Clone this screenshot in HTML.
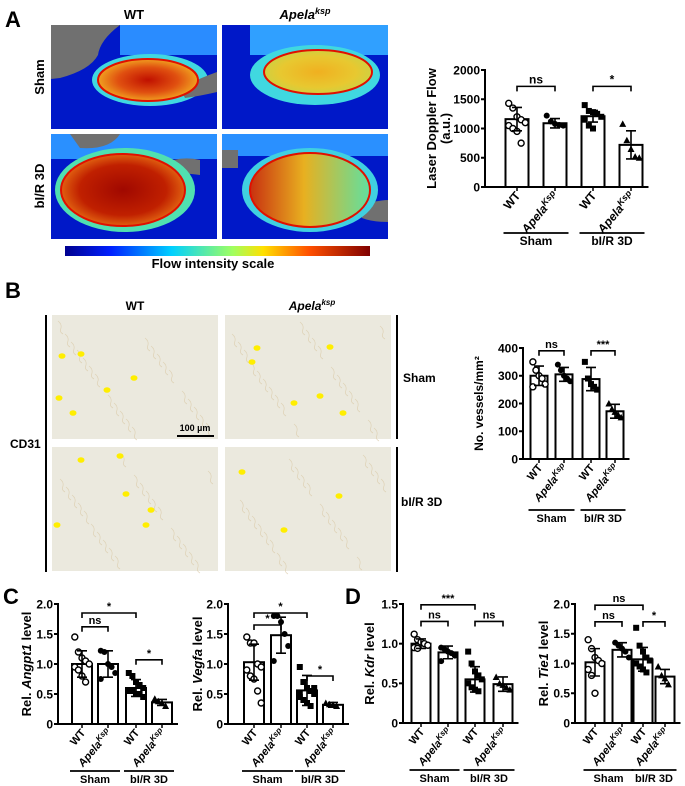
<!DOCTYPE html>
<html><head><meta charset="utf-8"><style>
html,body{margin:0;padding:0;background:#fff;}
svg{display:block;font-family:"Liberation Sans",Arial,sans-serif;}
</style></head><body>
<svg id="fig" width="685" height="786" viewBox="0 0 685 786" xmlns="http://www.w3.org/2000/svg">
<defs>
<linearGradient id="jet" x1="0" x2="1" y1="0" y2="0">
<stop offset="0" stop-color="#00008f"/><stop offset="0.15" stop-color="#0020ff"/><stop offset="0.35" stop-color="#00d0ff"/><stop offset="0.55" stop-color="#a0ff60"/><stop offset="0.65" stop-color="#ffe000"/><stop offset="0.8" stop-color="#ff5000"/><stop offset="1" stop-color="#800000"/>
</linearGradient>
<radialGradient id="hot1"><stop offset="0" stop-color="#c01000"/><stop offset="0.6" stop-color="#e05010"/><stop offset="1" stop-color="#f0a020"/></radialGradient>
<radialGradient id="hot2"><stop offset="0" stop-color="#f0b020"/><stop offset="0.7" stop-color="#e8c830"/><stop offset="1" stop-color="#d0d040"/></radialGradient>
<radialGradient id="hot3"><stop offset="0" stop-color="#a00800"/><stop offset="0.7" stop-color="#c02000"/><stop offset="1" stop-color="#e06010"/></radialGradient>
<linearGradient id="hot4" x1="0" x2="1"><stop offset="0" stop-color="#c83010"/><stop offset="0.45" stop-color="#e8b020"/><stop offset="1" stop-color="#60e0a0"/></linearGradient>
</defs>

<!-- Panel A -->
<text x="5" y="27" font-size="22" font-weight="bold">A</text>
<text x="134" y="19" font-size="13" font-weight="bold" text-anchor="middle">WT</text>
<text x="305" y="19" font-size="13" font-weight="bold" font-style="italic" text-anchor="middle">Apela<tspan font-size="9" dy="-5">ksp</tspan></text>
<text transform="translate(44,77) rotate(-90)" font-size="13" font-weight="bold" text-anchor="middle">Sham</text>
<text transform="translate(44,186) rotate(-90)" font-size="13" font-weight="bold" text-anchor="middle">bI/R 3D</text>

<g>
<rect x="51" y="25" width="166" height="104" fill="#0018c8"/>
<path d="M51 25 H120 Q100 40 98 55 Q90 70 60 78 L51 79Z" fill="#707070"/>
<rect x="120" y="25" width="97" height="30" fill="#2a8cff"/>
<ellipse cx="150" cy="80" rx="58" ry="26" fill="#40d8e0"/>
<path d="M180 88 Q200 78 217 72 V92 Q200 96 185 98Z" fill="#707070"/>
<ellipse cx="148" cy="80" rx="50" ry="21" fill="url(#hot1)" stroke="#e01000" stroke-width="2"/>
</g>
<g>
<rect x="222" y="25" width="166" height="104" fill="#0018c8"/>
<rect x="250" y="25" width="138" height="30" fill="#30a0ff"/>
<ellipse cx="315" cy="75" rx="65" ry="30" fill="#40d8e0"/>
<ellipse cx="318" cy="72" rx="54" ry="22" fill="url(#hot2)" stroke="#e01000" stroke-width="2"/>
</g>
<g>
<rect x="51" y="134" width="166" height="105" fill="#0018c8"/>
<rect x="51" y="134" width="166" height="25" fill="#2a90ff"/>
<path d="M70 134 H120 Q110 150 80 148Z" fill="#707070"/>
<path d="M160 165 Q180 155 200 160 L200 175 Q180 172 165 175Z" fill="#707070"/>
<ellipse cx="125" cy="190" rx="70" ry="42" fill="#50e0b0"/>
<ellipse cx="123" cy="190" rx="62" ry="36" fill="url(#hot3)" stroke="#e01000" stroke-width="2"/>
</g>
<g>
<rect x="222" y="134" width="166" height="105" fill="#0018c8"/>
<rect x="222" y="134" width="166" height="22" fill="#2a90ff"/>
<path d="M222 150 H238 V168 H222Z" fill="#707070"/>
<path d="M360 205 Q380 200 388 200 V222 Q372 222 362 218Z" fill="#707070"/>
<ellipse cx="310" cy="190" rx="68" ry="42" fill="#40d0e0"/>
<ellipse cx="310" cy="190" rx="60" ry="37" fill="url(#hot4)" stroke="#e01000" stroke-width="2"/>
</g>
<rect x="65" y="246" width="305" height="10" fill="url(#jet)"/>
<text x="213" y="268" font-size="13" font-weight="bold" text-anchor="middle">Flow intensity scale</text>

<!-- Panel B -->
<text x="5" y="298" font-size="22" font-weight="bold">B</text>
<text x="135" y="310" font-size="12" font-weight="bold" text-anchor="middle">WT</text>
<text x="312" y="310" font-size="12" font-weight="bold" font-style="italic" text-anchor="middle">Apela<tspan font-size="8" dy="-5">ksp</tspan></text>
<line x1="46" y1="315" x2="46" y2="572" stroke="#000" stroke-width="2"/>
<line x1="397" y1="315" x2="397" y2="439" stroke="#000" stroke-width="2"/>
<line x1="397" y1="447" x2="397" y2="572" stroke="#000" stroke-width="2"/>
<text x="10" y="448" font-size="12" font-weight="bold">CD31</text>
<text x="403" y="382" font-size="12" font-weight="bold">Sham</text>
<text x="401" y="506" font-size="12" font-weight="bold">bI/R 3D</text>
<g id="histo"></g>
<line x1="177" y1="436" x2="214" y2="436" stroke="#000" stroke-width="2"/>
<text x="195" y="431" font-size="9" font-weight="bold" text-anchor="middle">100 µm</text>

<text x="3" y="604" font-size="22" font-weight="bold">C</text>
<text x="345" y="604" font-size="22" font-weight="bold">D</text>

<g id="charts"></g>
</svg>
<script>
var NS="http://www.w3.org/2000/svg";
function mk(parent,tag,attrs,text){var e=document.createElementNS(NS,tag);for(var k in attrs)e.setAttribute(k,attrs[k]);if(text!=null)e.textContent=text;parent.appendChild(e);return e;}

var histoRects=[[52,315],[225,315],[52,447],[225,447]];
var histoDots=[[[10,41],[29,39],[7,83],[55,75],[21,98],[82,63]],[[32,33],[27,47],[105,32],[69,88],[95,81],[118,98]],[[29,13],[68,9],[74,47],[99,63],[5,78],[94,78]],[[17,25],[114,49],[59,83]]];
var hg=document.getElementById('histo');
histoRects.forEach(function(r,i){
  var g=mk(hg,'g',{});
  
  
  mk(g,'rect',{x:r[0],y:r[1],width:166,height:124,fill:'#ebe9de'});
  for(var k=0;k<22;k++){var x=r[0]+6+((k*37+i*13)%154),y=r[1]+6+((k*53+i*29)%110);
    mk(g,'path',{d:'M'+x+' '+y+' q4 3 3 7 q-2 4 2 6',fill:'none',stroke:'#d8c7a4','stroke-width':0.7,opacity:0.7});}
  histoDots[i].forEach(function(d){mk(g,'ellipse',{cx:r[0]+d[0],cy:r[1]+d[1],rx:3.5,ry:2.8,fill:'#ffee00'});});
});

// ===== Chart data =====
var groups=['WT','ApelaKsp','WT','ApelaKsp'];
var ldfMeans=[1160,1090,1210,720];
var ldfSD=[200,80,100,240];
var ldfPts=[[1430,1350,1200,1150,1100,1050,1000,950,750],[1220,1120,1080,1060,1050],[1400,1300,1280,1250,1200,1150,1050,1000],[1080,800,650,520,500]];
var ldfTicks=[0,500,1000,1500,2000];
var vesMeans=[300,305,288,172];
var vesSD=[35,25,42,25];
var vesPts=[[350,320,300,290,270,260],[340,320,300,290,280],[350,290,270,260,250],[200,180,170,160,150]];
var vesTicks=[0,100,200,300,400];
var angMeans=[1.0,1.0,0.6,0.36];
var angSD=[0.22,0.22,0.14,0.05];
var angPts=[[1.45,1.2,1.1,1.05,1.0,0.95,0.9,0.8,0.7],[1.22,1.2,1.0,0.95,0.85,0.75],[0.85,0.8,0.7,0.65,0.6,0.55,0.55,0.5,0.5,0.45],[0.42,0.38,0.35,0.3]];
var vegMeans=[1.03,1.48,0.56,0.32];
var vegSD=[0.3,0.3,0.25,0.04];
var vegPts=[[1.45,1.35,1.35,1.0,0.95,0.9,0.8,0.75,0.55,0.35],[1.8,1.8,1.7,1.5,1.3,1.05],[0.95,0.7,0.6,0.55,0.5,0.45,0.4,0.35,0.3,0.6,0.5],[0.35,0.33,0.32,0.3]];
var kdrMeans=[1.0,0.89,0.55,0.49];
var kdrSD=[0.06,0.08,0.16,0.09];
var kdrPts=[[1.12,1.05,1.02,1.0,0.98,0.95,0.94],[0.95,0.93,0.9,0.88,0.85,0.78],[0.9,0.75,0.65,0.6,0.55,0.5,0.45,0.42,0.4],[0.58,0.5,0.48,0.45,0.42]];
var tieMeans=[1.02,1.23,1.07,0.78];
var tieSD=[0.23,0.12,0.2,0.12];
var tiePts=[[1.4,1.25,1.1,1.05,1.0,0.9,0.8,0.5],[1.35,1.3,1.25,1.2,1.1],[1.6,1.3,1.2,1.1,1.05,1.0,0.95,0.9,0.85],[0.95,0.8,0.75,0.65]];
var relTicks2=['0','0.5','1.0','1.5','2.0'];
var relTicks15=['0','0.5','1.0','1.5'];

var markers=['ocircle','circle','square','triangle'];
var charts=[
 {name:'ldf',ax:485,top:70,bot:187,max:2000,ticks:ldfTicks,tl:ldfTicks.map(String),cx:[517,555,593,631],bw:23,means:ldfMeans,sd:ldfSD,pts:ldfPts,fs:13,tfs:12,ylab:['Laser Doppler Flow','(a.u.)'],labx:441,br:[[0,1,1720,'ns'],[2,3,1720,'*']]},
 {name:'vessels',ax:523,top:348,bot:459,max:400,ticks:vesTicks,tl:vesTicks.map(String),cx:[539,564,591,615],bw:17,means:vesMeans,sd:vesSD,pts:vesPts,fs:12,ylab:['No. vessels/mm²'],labx:483,br:[[0,1,390,'ns'],[2,3,390,'***']]},
 {name:'angpt1',ax:58,top:604,bot:724,max:2,ticks:[0,0.5,1,1.5,2],tl:relTicks2,cx:[82,108,136,162],bw:20,means:angMeans,sd:angSD,pts:angPts,fs:12,ylab:['Rel. ','Angpt1',' level'],labx:31,br:[[0,2,1.85,'*'],[0,1,1.62,'ns'],[2,3,1.07,'*']]},
 {name:'vegfa',ax:228,top:604,bot:724,max:2,ticks:[0,0.5,1,1.5,2],tl:relTicks2,cx:[254,281,307,333],bw:20,means:vegMeans,sd:vegSD,pts:vegPts,fs:12,ylab:['Rel. ','Vegfa',' level'],labx:202,br:[[0,2,1.85,'*'],[0,1,1.65,'*'],[2,3,0.8,'*']]},
 {name:'kdr',ax:403,top:604,bot:723,max:1.5,ticks:[0,0.5,1,1.5],tl:relTicks15,cx:[421,448,475,503],bw:19,means:kdrMeans,sd:kdrSD,pts:kdrPts,fs:12,ylab:['Rel. ','Kdr',' level'],labx:374,br:[[0,2,1.49,'***'],[0,1,1.28,'ns'],[2,3,1.28,'ns']]},
 {name:'tie1',ax:575,top:604,bot:723,max:2,ticks:[0,0.5,1,1.5,2],tl:relTicks2,cx:[595,622,643,665],bw:19,means:tieMeans,sd:tieSD,pts:tiePts,fs:12,ylab:['Rel. ','Tie1',' level'],labx:548,br:[[0,2,1.98,'ns'],[0,1,1.7,'ns'],[2,3,1.7,'*']]}
];

var root=document.getElementById('charts');
charts.forEach(function(c){
  function Y(v){return c.bot-(v/c.max)*(c.bot-c.top);}
  var tfs=c.tfs||c.fs;
  var g=mk(root,'g',{});
  
  
  c.means.forEach(function(m,i){
    var b=mk(g,'rect',{x:c.cx[i]-c.bw/2,y:Y(m),width:c.bw,height:c.bot-Y(m),fill:'#fff',stroke:'#000','stroke-width':2});
    
    
  });
  c.pts.forEach(function(arr,i){
    arr.forEach(function(v,k){
      var x=c.cx[i]+((k%5)-2)*c.bw*0.18, y=Y(v), t=markers[i], p;
      if(t==='ocircle')p=mk(g,'circle',{cx:x,cy:y,r:3,fill:'#fff',stroke:'#000','stroke-width':1.4});
      else if(t==='circle')p=mk(g,'circle',{cx:x,cy:y,r:3,fill:'#000'});
      else if(t==='square')p=mk(g,'rect',{x:x-3,y:y-3,width:6,height:6,fill:'#000'});
      else p=mk(g,'path',{d:'M'+x+' '+(y-3.5)+' L'+(x+3.5)+' '+(y+3)+' L'+(x-3.5)+' '+(y+3)+'Z',fill:'#000'});
      
      
    });
  });
  c.means.forEach(function(m,i){
    var e=mk(g,'path',{d:'M'+c.cx[i]+' '+Y(m-c.sd[i])+' V'+Y(m+c.sd[i])+' M'+(c.cx[i]-5)+' '+Y(m+c.sd[i])+' h10 M'+(c.cx[i]-5)+' '+Y(m-c.sd[i])+' h10',stroke:'#000','stroke-width':1.6,fill:'none'});
    
    
  });
  var ya=mk(g,'line',{x1:c.ax,y1:c.top-1,x2:c.ax,y2:c.bot,stroke:'#000','stroke-width':2});
  
  
  var xa=mk(g,'line',{x1:c.ax,y1:c.bot,x2:c.cx[3]+c.bw/2+6,y2:c.bot,stroke:'#000','stroke-width':2});
  
  
  c.ticks.forEach(function(t,i){
    mk(g,'line',{x1:c.ax-4,y1:Y(t),x2:c.ax,y2:Y(t),stroke:'#000','stroke-width':2});
    var tl=mk(g,'text',{x:c.ax-5,y:Y(t)+tfs*0.36,'font-size':tfs,'font-weight':'bold','text-anchor':'end'},c.tl[i]);
    
    
  });
  c.cx.forEach(function(x){mk(g,'line',{x1:x,y1:c.bot,x2:x,y2:c.bot+4,stroke:'#000','stroke-width':1.5});});
  var my=(c.top+c.bot)/2;
  if(c.ylab.length===2){
    var l1=mk(g,'text',{transform:'translate('+(c.labx-5)+','+my+') rotate(-90)','font-size':c.fs,'font-weight':'bold','text-anchor':'middle'},c.ylab[0]);
    
    
    mk(g,'text',{transform:'translate('+(c.labx+9)+','+my+') rotate(-90)','font-size':c.fs,'font-weight':'bold','text-anchor':'middle'},c.ylab[1]);
  } else if(c.ylab.length===1){
    var l2=mk(g,'text',{transform:'translate('+c.labx+','+my+') rotate(-90)','font-size':c.fs,'font-weight':'bold','text-anchor':'middle'},c.ylab[0]);
    
    
  } else {
    var l3=mk(g,'text',{transform:'translate('+c.labx+','+my+') rotate(-90)','font-size':13,'font-weight':'bold','text-anchor':'middle'});
    
    
    mk(l3,'tspan',{},c.ylab[0]);mk(l3,'tspan',{'font-style':'italic'},c.ylab[1]);mk(l3,'tspan',{},c.ylab[2]);
  }
  groups.forEach(function(gname,i){
    var t=mk(g,'text',{transform:'translate('+(c.cx[i]+4)+','+(c.bot+9)+') rotate(-50)','font-size':c.fs-1,'font-weight':'bold','text-anchor':'end'});
    
    
    if(gname==='WT'){t.textContent='WT';}
    else{mk(t,'tspan',{'font-style':'italic'},'Apela');mk(t,'tspan',{'font-size':c.fs-4,dy:-4,'font-style':'italic'},'Ksp');}
  });
  var gy=c.bot+(c.name==='ldf'?46:c.name==='vessels'?51:47);
  [['Sham',0,1],['bI/R 3D',2,3]].forEach(function(gr){
    var x1=c.cx[gr[1]]-c.bw/2-2,x2=c.cx[gr[2]]+c.bw/2+2;
    var gl=mk(g,'line',{x1:x1,y1:gy,x2:x2,y2:gy,stroke:'#000','stroke-width':1.8});
    
    
    var gt=mk(g,'text',{x:(x1+x2)/2,y:gy+12,'font-size':c.fs-1,'font-weight':'bold','text-anchor':'middle'},gr[0]);
    
    
  });
  c.br.forEach(function(b){
    var x1=c.cx[b[0]],x2=c.cx[b[1]],y=Y(b[2]);
    var bp=mk(g,'path',{d:'M'+x1+' '+(y+5)+' V'+y+' H'+x2+' V'+(y+5),fill:'none',stroke:'#000','stroke-width':1.6});
    
    
    var bt=mk(g,'text',{x:(x1+x2)/2,y:y-3,'font-size':c.fs-1,'font-weight':'bold','text-anchor':'middle'},b[3]);
    
    
  });
});
</script>
</body></html>
